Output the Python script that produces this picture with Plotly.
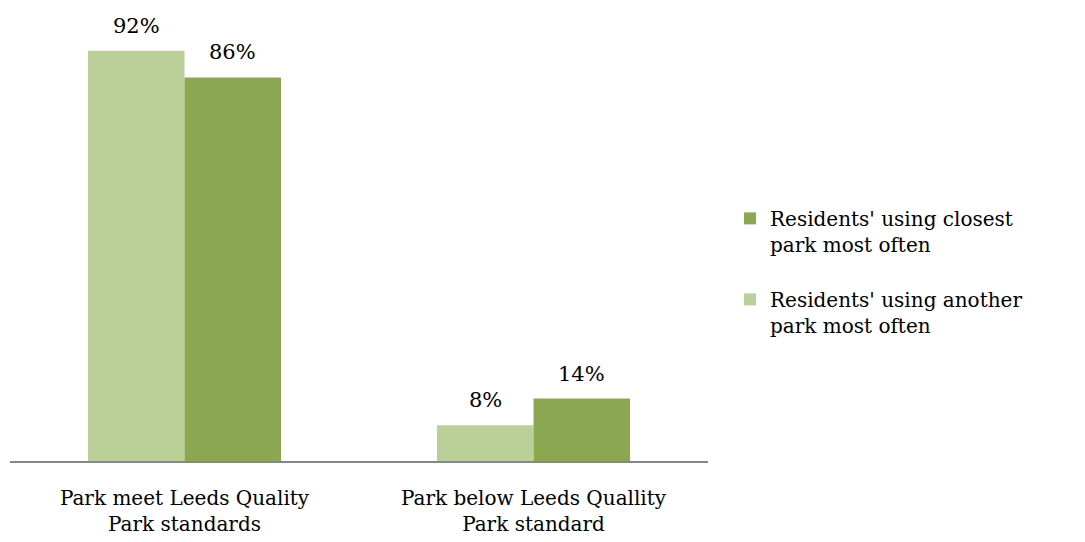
import plotly.graph_objects as go

categories = ["Park meet Leeds Quality<br>Park standards", "Park below Leeds Quallity<br>Park standard"]
another_park = [92, 8]
closest_park = [86, 14]
series_names = ["Residents' using another<br>park most often", "Residents' using closest<br>park most often"]

light = "#BBCF99"
dark = "#8BA752"
font_family = "DejaVu Serif"

fig = go.Figure()
fig.add_trace(go.Bar(
    x=categories, y=another_park, name=series_names[0], legendgroup="another",
    legendrank=2,
    marker=dict(color=light, line=dict(width=0)),
))
fig.add_trace(go.Bar(
    x=categories, y=closest_park, name=series_names[1], legendgroup="closest",
    legendrank=1,
    marker=dict(color=dark, line=dict(width=0)),
))

# value labels above bars (offset half a bar width left/right of category centre)
half_bar = 48.25
for vals, shift in ((another_park, -half_bar), (closest_park, half_bar)):
    for cat, v in zip(categories, vals):
        fig.add_annotation(
            x=cat, y=v, xref="x", yref="y", text=f"{v}%", showarrow=False,
            xshift=shift, yshift=11, yanchor="bottom",
            font=dict(size=21, family=font_family, color="#000000"),
        )

fig.update_layout(
    width=1085, height=542,
    margin=dict(l=2, r=385, t=7, b=89),
    barmode="group", bargap=0.447, bargroupgap=0,
    plot_bgcolor="white", paper_bgcolor="white",
    font=dict(family=font_family, size=20, color="#000000"),
    showlegend=True,
    legend=dict(
        x=1.0315, y=0.424, xanchor="left", yanchor="middle",
        traceorder="grouped", font=dict(size=20, family=font_family),
        valign="top", tracegroupgap=26,
        bgcolor="rgba(0,0,0,0)",
    ),
    xaxis=dict(
        showline=True, linecolor="#868686", linewidth=2,
        ticks="", showgrid=False, tickfont=dict(size=20, family=font_family),
        ticklabelstandoff=18,
    ),
    yaxis=dict(
        range=[0, 100], visible=False, showgrid=False, zeroline=False,
    ),
)

fig.write_html("out.html")
